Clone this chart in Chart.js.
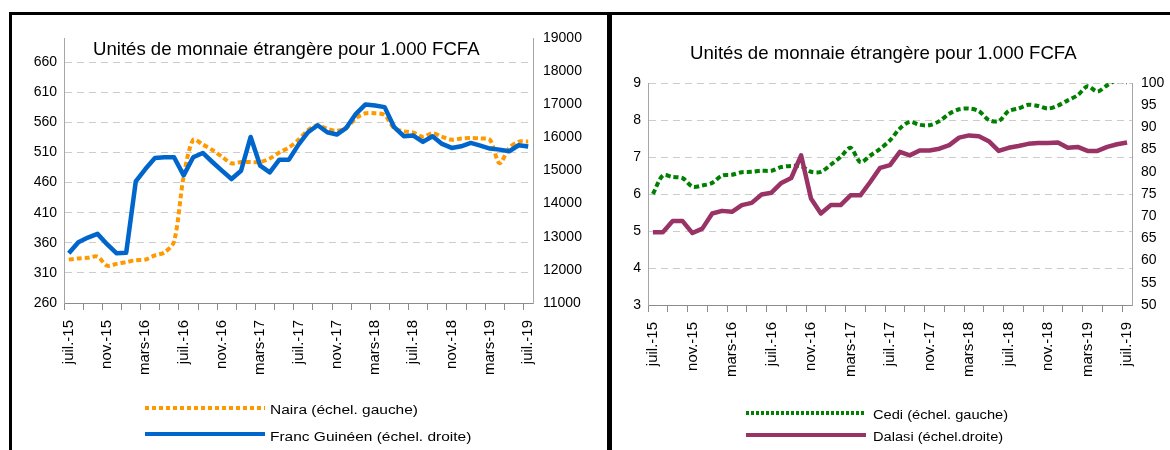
<!DOCTYPE html>
<html lang="fr">
<head>
<meta charset="utf-8">
<title>Unités de monnaie étrangère pour 1.000 FCFA</title>
<script src="https://cdn.jsdelivr.net/npm/chart.js@4.4.1/dist/chart.umd.min.js"></script>
<style>
  body { margin: 0; width: 1170px; height: 450px; position: relative; overflow: hidden; background: #fff;
         font-family: "Liberation Sans", Arial, sans-serif; color: #000; }
  canvas { position: absolute; top: 0; }
  .bord { position: absolute; background: #000; }
  .titre { position: absolute; font-size: 18.6px; line-height: 18.6px; white-space: nowrap; }
  .trait { position: absolute; width: 120px; height: 4px; }
  .texte { position: absolute; font-size: 12px; line-height: 12px; white-space: nowrap; transform-origin: left center; }
</style>
</head>
<body>
<canvas id="gauche" width="607" height="450" style="left:0"></canvas>
<canvas id="droite" width="558" height="450" style="left:612px"></canvas>

<!-- cadres noirs -->
<div class="bord" style="left:9px; top:12px; width:1161px; height:3px"></div>
<div class="bord" style="left:9px; top:12px; width:3px; height:438px"></div>
<div class="bord" style="left:607px; top:12px; width:5px; height:438px"></div>

<div class="titre" style="left:93px; top:39.5px">Unités de monnaie étrangère pour 1.000 FCFA</div>
<div class="titre" style="left:690px; top:43.5px">Unités de monnaie étrangère pour 1.000 FCFA</div>

<!-- légendes -->
<div class="trait" style="left:145px; top:405.5px; background:repeating-linear-gradient(90deg,#ff9900 0 4px,transparent 4px 7px)"></div>
<div class="texte" style="left:270px; top:403.5px; transform:scaleX(1.29)">Naira (échel. gauche)</div>
<div class="trait" style="left:145px; top:431.5px; background:#0066cc"></div>
<div class="texte" style="left:270px; top:430.5px; transform:scaleX(1.29)">Franc Guinéen (échel. droite)</div>

<div class="trait" style="left:746px; top:410.5px; background:repeating-linear-gradient(90deg,#008000 0 3px,transparent 3px 5px)"></div>
<div class="texte" style="left:873px; top:408.5px; transform:scaleX(1.22)">Cedi (échel. gauche)</div>
<div class="trait" style="left:746px; top:432.5px; background:#993366"></div>
<div class="texte" style="left:873px; top:430.5px; transform:scaleX(1.22)">Dalasi (échel.droite)</div>

<script>
// --- DONNÉES ---
const mois = [
    'juil.-15', 'août-15', 'sept.-15', 'oct.-15', 'nov.-15', 'déc.-15',
    'janv.-16', 'févr.-16', 'mars-16', 'avr.-16', 'mai-16', 'juin-16',
    'juil.-16', 'août-16', 'sept.-16', 'oct.-16', 'nov.-16', 'déc.-16',
    'janv.-17', 'févr.-17', 'mars-17', 'avr.-17', 'mai-17', 'juin-17',
    'juil.-17', 'août-17', 'sept.-17', 'oct.-17', 'nov.-17', 'déc.-17',
    'janv.-18', 'févr.-18', 'mars-18', 'avr.-18', 'mai-18', 'juin-18',
    'juil.-18', 'août-18', 'sept.-18', 'oct.-18', 'nov.-18', 'déc.-18',
    'janv.-19', 'févr.-19', 'mars-19', 'avr.-19', 'mai-19', 'juin-19',
    'juil.-19'
];

const naira = [332, 334, 335, 337, 322, 325, 328, 331, 332, 339,
    344, 362, 470, 531, 523, 514, 503, 492, 494, 494,
    494, 500, 510, 518, 531, 547, 555, 549, 546, 551,
    567, 575, 575, 572, 550, 545, 543, 536, 542, 536,
    531, 533, 534, 533, 531, 492, 517, 528, 528];

const francGuineen = [12500, 12835, 12976, 13087, 12774, 12500, 12520, 14671, 15045, 15378,
    15398, 15398, 14853, 15398, 15529, 15257, 14994, 14742, 14994, 16013,
    15146, 14944, 15327, 15327, 15782, 16156, 16366, 16156, 16085, 16288,
    16712, 16995, 16964, 16914, 16308, 16035, 16055, 15863, 16035, 15803,
    15681, 15732, 15833, 15752, 15661, 15630, 15580, 15762, 15722];

const cedi = [6.0, 6.5, 6.46, 6.43, 6.2, 6.23, 6.3, 6.5, 6.52, 6.59,
    6.6, 6.63, 6.63, 6.73, 6.76, 6.75, 6.6, 6.6, 6.79, 7.0,
    7.25, 6.86, 7.04, 7.22, 7.45, 7.77, 7.95, 7.87, 7.86, 7.97,
    8.17, 8.29, 8.31, 8.24, 8.0, 7.97, 8.24, 8.31, 8.41, 8.38,
    8.31, 8.39, 8.53, 8.67, 8.91, 8.77, 8.94, 9.08, 9.01];

const dalasi = [66.4, 66.4, 68.9, 68.9, 66.2, 67.2, 70.6, 71.2, 71.0, 72.5,
    73.0, 74.9, 75.3, 77.5, 78.6, 83.7, 74.0, 70.6, 72.5, 72.5,
    74.7, 74.7, 77.7, 80.9, 81.5, 84.5, 83.7, 84.8, 84.8, 85.2,
    86.0, 87.7, 88.2, 88.0, 86.9, 84.7, 85.4, 85.8, 86.3, 86.5,
    86.5, 86.6, 85.4, 85.6, 84.7, 84.7, 85.6, 86.2, 86.6];

const ticksNaira = [260, 310, 360, 410, 460, 510, 560, 610, 660];
const ticksFranc = [11000, 12000, 13000, 14000, 15000, 16000, 17000, 18000, 19000];
const ticksCedi = [3, 4, 5, 6, 7, 8, 9];
const ticksDalasi = [50, 55, 60, 65, 70, 75, 80, 85, 90, 95, 100];

// --- AXES ---
const police = { family: '"Liberation Sans", Arial, sans-serif', size: 14 };
Chart.defaults.font.family = police.family;

function axeX(hauteur) {
    return {
        type: 'category',
        offset: true,
        afterFit: s => { s.height = hauteur; },
        grid: {
            offset: true, drawOnChartArea: false, drawTicks: true, tickLength: 7, tickWidth: 1,
            tickColor: c => (c.index % 2 === 0 ? '#8c8c8c' : 'rgba(0,0,0,0)')
        },
        border: { color: '#8c8c8c', width: 1 },
        ticks: {
            autoSkip: false, minRotation: 90, maxRotation: 90, padding: 10, color: '#000',
            font: { family: police.family, size: 15 },
            callback: function (v, i) { return i % 4 === 0 ? this.getLabelForValue(v) : ''; }
        }
    };
}

function axeY(position, min, max, valeurs, largeur, marge, grille) {
    return {
        type: 'linear', position, min, max,
        afterFit: s => { s.width = largeur; },
        afterBuildTicks: s => { s.ticks = valeurs.map(v => ({ value: v })); },
        grid: {
            display: grille, drawTicks: false, lineWidth: 1,
            color: c => (c.tick && c.tick.value > min ? '#cccccc' : 'rgba(0,0,0,0)')
        },
        border: { color: '#a6a6a6', width: 1, dash: [7, 5] },
        ticks: { padding: marge, color: '#000', font: police, callback: v => String(v) }
    };
}

function options(padding, hauteurX, yL, yR) {
    return {
        responsive: false, animation: false, devicePixelRatio: 1,
        layout: { padding },
        elements: {
            point: { radius: 0 },
            line: { borderJoinStyle: 'round', borderCapStyle: 'butt', fill: false }
        },
        plugins: { legend: { display: false }, title: { display: false }, tooltip: { enabled: false } },
        scales: { x: axeX(hauteurX), yL, yR }
    };
}

// --- GRAPHIQUES ---
new Chart(document.getElementById('gauche'), {
    type: 'line',
    data: {
        labels: mois,
        datasets: [
            { label: 'Franc Guinéen (échel. droite)', data: francGuineen, yAxisID: 'yR',
              borderColor: '#0066cc', borderWidth: 4.5, tension: 0, order: 0 },
            { label: 'Naira (échel. gauche)', data: naira, yAxisID: 'yL',
              borderColor: '#ff9900', borderWidth: 4, borderDash: [5, 3], tension: 0.3, order: 1 }
        ]
    },
    options: options({ left: 14, top: 38, right: 0, bottom: 0 }, 147,
        axeY('left', 260, 700, ticksNaira, 50, 7, true),
        axeY('right', 11000, 19000, ticksFranc, 74, 10, false))
});

new Chart(document.getElementById('droite'), {
    type: 'line',
    data: {
        labels: mois,
        datasets: [
            { label: 'Dalasi (échel.droite)', data: dalasi, yAxisID: 'yR',
              borderColor: '#993366', borderWidth: 4.5, tension: 0, order: 0 },
            { label: 'Cedi (échel. gauche)', data: cedi, yAxisID: 'yL',
              borderColor: '#008000', borderWidth: 4, borderDash: [5, 3], tension: 0.3, order: 1 }
        ]
    },
    options: options({ left: 6, top: 83, right: 0, bottom: 0 }, 145,
        axeY('left', 3, 9, ticksCedi, 30, 7, true),
        axeY('right', 50, 100, ticksDalasi, 38, 9, false))
});
</script>
</body>
</html>
